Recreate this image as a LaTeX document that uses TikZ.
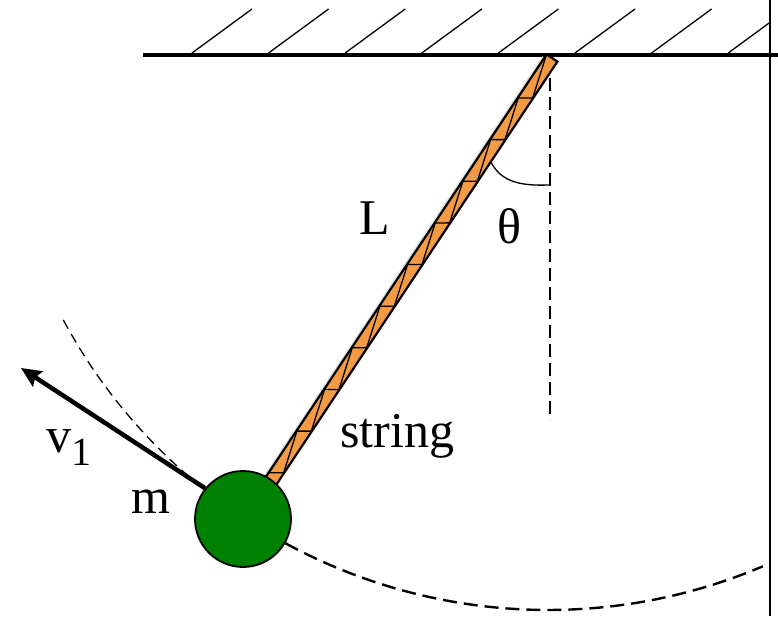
\documentclass[tikz,border=0pt]{standalone}
\usepackage{fontspec}
\setmainfont{Liberation Serif}
\usetikzlibrary{arrows.meta}
\definecolor{rodorange}{RGB}{242,155,68}
\definecolor{bobgreen}{RGB}{0,128,0}
\begin{document}
\begin{tikzpicture}[x=1pt,y=1pt,
  lbl/.style={inner sep=0pt, anchor=base west, font=\fontsize{50}{50}\selectfont},
  hatch/.style={line width=1.3},
  pathdash/.style={dash pattern=on 14pt off 7pt}]
\useasboundingbox (0,0) rectangle (778,616);
\coordinate (P) at (548,556);
% ceiling
\coordinate (cl) at (143,561);
\coordinate (cr) at (778,561);
\draw[line width=4] (cl) -- (cr);
\foreach \k in {0,...,6} \draw[hatch] ({192+76.6*\k},563) -- ++(60,44);
\draw[hatch] (728.2,563) -- (770,593.6);
% right wall line
\coordinate (wt) at (770,616);
\coordinate (wb) at (770,0);
\draw[line width=1.6] (wt) -- (wb);
% vertical dashed reference
\coordinate (vt) at (550,538);
\coordinate (vb) at (550,196);
\draw[line width=2, dash pattern=on 13pt off 6pt] (vt) -- (vb);
% angle mark
\coordinate (a1) at (490,456);
\coordinate (a2) at (549,431);
\draw[line width=1.3] (a1) .. controls (500,434) and (520,430) .. (a2);
% swing path
\draw[line width=2.4, pathdash] (P) ++(241.5:550) arc[start angle=241.5, end angle=293, radius=550];
\draw[line width=1.3, dash pattern=on 10pt off 6pt] (P) ++(208.2:550) arc[start angle=208.2, end angle=229.8, radius=550];
% rod
\begin{scope}[shift={(552,558)}, rotate=236.4]
  \fill[black!12] (4,-9) rectangle (510,-6);
  \draw[fill=rodorange, line width=2.2] (0,-6.5) rectangle (510,6.5);
  \draw[line width=1.3] (2,-6) \foreach \k in {0,...,9} { -- ({\k*50+44},6) -- ({\k*50+52},-6)};
\end{scope}
% bob
\node[circle, draw, line width=1.8, fill=bobgreen, minimum size=96pt, inner sep=0pt] (bob) at (243,97) {};
% velocity
\coordinate (vtip) at (21,248);
\draw[line width=4.5, -{Stealth[length=20pt,width=18pt,inset=3pt]}] (bob.141) -- (vtip);
% labels
\node[lbl] (Llab) at (359,381) {L};
\node[lbl] (thlab) at (497,372) {θ};
\node[lbl] (strlab) at (340,169) {string};
\node[lbl] (mlab) at (131,103) {m};
\node[lbl] (vlab) at (46,164) {v\raisebox{-13pt}{\fontsize{40}{40}\selectfont 1}};
\end{tikzpicture}
\end{document}
